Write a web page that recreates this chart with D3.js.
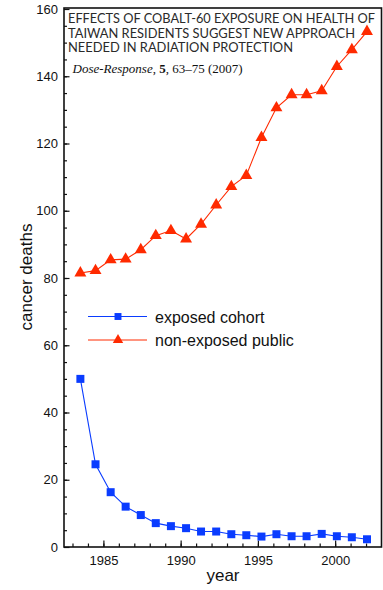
<!DOCTYPE html>
<html>
<head>
<meta charset="utf-8">
<script src="https://cdn.jsdelivr.net/npm/d3@7"></script>
<style>
  body { margin: 0; background: #fff; }
  svg { display: block; }
</style>
</head>
<body>
<svg width="383" height="590"></svg>
<script>
// points (x position in years, y = cancer deaths)
var years = [1983.51, 1984.49, 1985.47, 1986.44, 1987.42, 1988.39, 1989.37, 1990.35, 1991.32, 1992.30,
             1993.28, 1994.25, 1995.23, 1996.20, 1997.18, 1998.15, 1999.13, 2000.11, 2001.08, 2002.06];
var exposed = [50, 24.6, 16.3, 12.0, 9.5, 7.1, 6.2, 5.6, 4.6, 4.6,
               3.8, 3.5, 3.1, 3.8, 3.2, 3.2, 3.9, 3.2, 2.9, 2.3];
var nonExposed = [81.5, 82.2, 85.4, 85.6, 88.4, 92.6, 94.1, 91.6, 96.0, 101.7,
                  107.2, 110.5, 121.8, 130.6, 134.5, 134.5, 135.7, 142.9, 147.9, 153.3];
var xTicks = [1985, 1990, 1995, 2000];
var yTicks = [0, 20, 40, 60, 80, 100, 120, 140, 160];
var titleLines = ['EFFECTS OF COBALT-60 EXPOSURE ON HEALTH OF',
                  'TAIWAN RESIDENTS SUGGEST NEW APPROACH',
                  'NEEDED IN RADIATION PROTECTION'];
var seriesNames = ['exposed cohort', 'non-exposed public'];

const blue = '#0a3cff';
const red = '#ff2a00';
const mLeft = 64, mRight = 381.5, mTop = 9, mBottom = 547;

const svg = d3.select('svg');

const x = d3.scaleLinear().domain([1982.45, 2003.0]).range([mLeft, mRight]);
const y = d3.scaleLinear().domain([0, 160]).range([mBottom, mTop]);

// minor ticks (inward)
svg.append('g')
  .attr('transform', `translate(0, ${mBottom})`)
  .call(d3.axisBottom(x).tickValues(d3.range(1983, 2003)).tickSize(-3.5).tickSizeOuter(0).tickFormat(''))
  .call(g => g.select('.domain').remove());

svg.append('g')
  .attr('transform', `translate(${mLeft}, 0)`)
  .call(d3.axisLeft(y).tickValues(d3.range(5, 160, 5)).tickSize(-3).tickSizeOuter(0).tickFormat(''))
  .call(g => g.select('.domain').remove());

// major ticks + labels
svg.append('g')
  .attr('transform', `translate(0, ${mBottom})`)
  .call(d3.axisBottom(x).tickValues(xTicks).tickSize(-6.5).tickSizeOuter(0).tickPadding(9).tickFormat(d3.format('d')))
  .call(g => g.select('.domain').remove())
  .selectAll('text')
  .attr('font-family', 'Liberation Sans, Arial, sans-serif')
  .attr('font-size', 13)
  .attr('fill', '#111');

svg.append('g')
  .attr('transform', `translate(${mLeft}, 0)`)
  .call(d3.axisLeft(y).tickValues(yTicks).tickSize(-5.5).tickSizeOuter(0).tickPadding(6))
  .call(g => g.select('.domain').remove())
  .selectAll('text')
  .attr('font-family', 'Liberation Sans, Arial, sans-serif')
  .attr('font-size', 13)
  .attr('fill', '#111');

svg.selectAll('.tick line').attr('stroke', '#111').attr('stroke-width', 1.2);

// frame
svg.append('rect')
  .attr('x', mLeft).attr('y', mTop - 1)
  .attr('width', mRight - mLeft).attr('height', mBottom - mTop + 1)
  .attr('fill', 'none').attr('stroke', '#111').attr('stroke-width', 1.6);

// series
const series = [
  { name: seriesNames[0], values: exposed, color: blue, symbol: d3.symbolSquare, size: 64 },
  { name: seriesNames[1], values: nonExposed, color: red, symbol: d3.symbolTriangle, size: 62 }
];

const line = d3.line().x(d => x(d[0])).y(d => y(d[1]));

series.forEach(function(s) {
  const pts = years.map((yr, i) => [yr, s.values[i]]);
  svg.append('path')
    .datum(pts)
    .attr('d', line)
    .attr('fill', 'none')
    .attr('stroke', s.color)
    .attr('stroke-width', 1.1);
  svg.selectAll(null)
    .data(pts)
    .enter()
    .append('path')
    .attr('transform', d => `translate(${x(d[0])}, ${y(d[1])})`)
    .attr('d', d3.symbol().type(s.symbol).size(s.size))
    .attr('fill', s.color);
});

// legend
series.forEach(function(s, i) {
  const ly = 316.5 + i * 23.5;
  svg.append('line')
    .attr('x1', 88).attr('x2', 147)
    .attr('y1', ly).attr('y2', ly)
    .attr('stroke', s.color).attr('stroke-width', 1);
  svg.append('path')
    .attr('transform', `translate(118, ${ly})`)
    .attr('d', d3.symbol().type(s.symbol).size(s.size * 0.75))
    .attr('fill', s.color);
  svg.append('text')
    .attr('x', 155).attr('y', ly + 6)
    .attr('font-family', 'Liberation Sans, Arial, sans-serif')
    .attr('font-size', 16)
    .attr('fill', '#111')
    .text(s.name);
});

// title block
const titleWidths = [307, 287, 225];
titleLines.forEach(function(t, i) {
  svg.append('text')
    .attr('x', 68).attr('y', 23 + i * 14.6)
    .attr('font-family', 'Lato, Open Sans, sans-serif')
    .attr('font-size', 12.5)
    .attr('fill', '#2a2a2a')
    .attr('textLength', titleWidths[i])
    .attr('lengthAdjust', 'spacingAndGlyphs')
    .text(t);
});

const cite = svg.append('text')
  .attr('x', 72.5).attr('y', 72.5)
  .attr('font-family', 'Liberation Serif, Times New Roman, serif')
  .attr('font-size', 13)
  .attr('fill', '#111');
cite.append('tspan').attr('font-style', 'italic').text('Dose-Response');
cite.append('tspan').text(', ');
cite.append('tspan').attr('font-weight', 'bold').text('5');
cite.append('tspan').text(', 63–75 (2007)');

// axis titles
svg.append('text')
  .attr('transform', 'translate(32, 277) rotate(-90)')
  .attr('text-anchor', 'middle')
  .attr('font-family', 'Liberation Sans, Arial, sans-serif')
  .attr('font-size', 17)
  .attr('fill', '#111')
  .text('cancer deaths');

svg.append('text')
  .attr('x', 223).attr('y', 581)
  .attr('text-anchor', 'middle')
  .attr('font-family', 'Liberation Sans, Arial, sans-serif')
  .attr('font-size', 17)
  .attr('fill', '#111')
  .text('year');
</script>
</body>
</html>
